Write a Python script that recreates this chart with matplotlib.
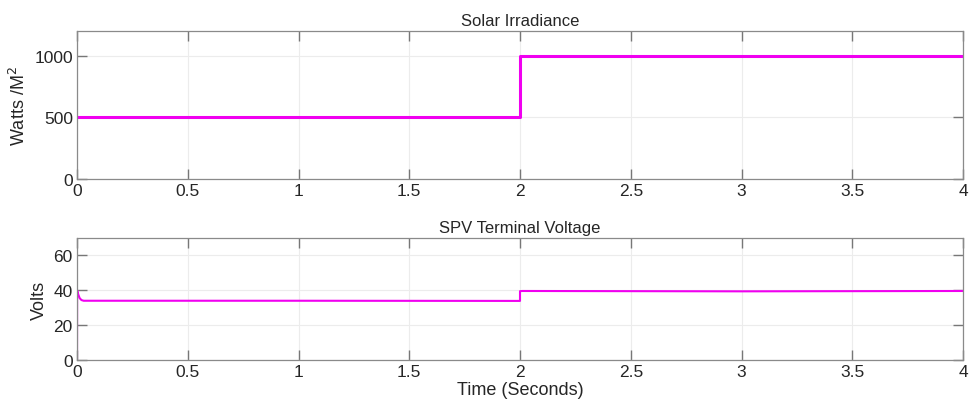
import matplotlib
matplotlib.use("Agg")
import matplotlib.pyplot as plt

plt.rcParams["font.family"] = ["Liberation Sans", "DejaVu Sans"]

# solar irradiance step (W/m^2)
irr_time = [0.0, 2.0, 2.0, 4.0]
irr_vals = [500, 500, 1000, 1000]

# SPV terminal voltage (V)
volt_time = [0.0, 0.0005, 0.002, 0.006, 0.012, 0.02, 0.03, 1.0, 2.0, 2.0, 2.01, 3.0, 4.0]
volt_vals = [0.0, 40.0, 39.5, 37.5, 35.5, 34.4, 34.0, 34.0, 33.9, 39.5, 39.6, 39.4, 39.6]

x_ticks = [0, 0.5, 1, 1.5, 2, 2.5, 3, 3.5, 4]
x_ticklabels = ["0", "0.5", "1", "1.5", "2", "2.5", "3", "3.5", "4"]

MAGENTA = "#f000f0"
SPINE = "#8a8a8a"
TEXT = "#262626"


def style_axis(ax, yticks, ylim):
    ax.set_xlim(0, 4)
    ax.set_ylim(*ylim)
    ax.set_xticks(x_ticks)
    ax.set_xticklabels(x_ticklabels)
    ax.set_yticks(yticks)
    ax.grid(True, color="#ececec", linewidth=0.8)
    ax.set_axisbelow(True)
    ax.tick_params(direction="in", length=7, width=1.0, color="#777777",
                   labelsize=12.5, labelcolor=TEXT, top=True, right=True, pad=3)
    for s in ax.spines.values():
        s.set_color(SPINE)
        s.set_linewidth(0.9)


fig = plt.figure(figsize=(9.69, 4.10), dpi=100)
ax1 = fig.add_axes([77 / 969, 1 - 180 / 410, 886 / 969, 148 / 410])
ax2 = fig.add_axes([77 / 969, 1 - 361 / 410, 886 / 969, 122 / 410])

ax1.plot(irr_time, irr_vals, color=MAGENTA, linewidth=2.2)
style_axis(ax1, [0, 500, 1000], (0, 1200))
ax1.set_title("Solar Irradiance", fontsize=12, color=TEXT, pad=4)
ax1.set_ylabel("Watts /M$^2$", fontsize=13, color=TEXT, labelpad=4)

ax2.plot(volt_time, volt_vals, color=MAGENTA, linewidth=1.5)
style_axis(ax2, [0, 20, 40, 60], (0, 70))
ax2.set_title("SPV Terminal Voltage", fontsize=12, color=TEXT, pad=4)
ax2.set_ylabel("Volts", fontsize=13, color=TEXT, labelpad=4)
ax2.set_xlabel("Time (Seconds)", fontsize=13, color=TEXT, labelpad=1)

fig.savefig("out.png", dpi=100)
plt.close(fig)
